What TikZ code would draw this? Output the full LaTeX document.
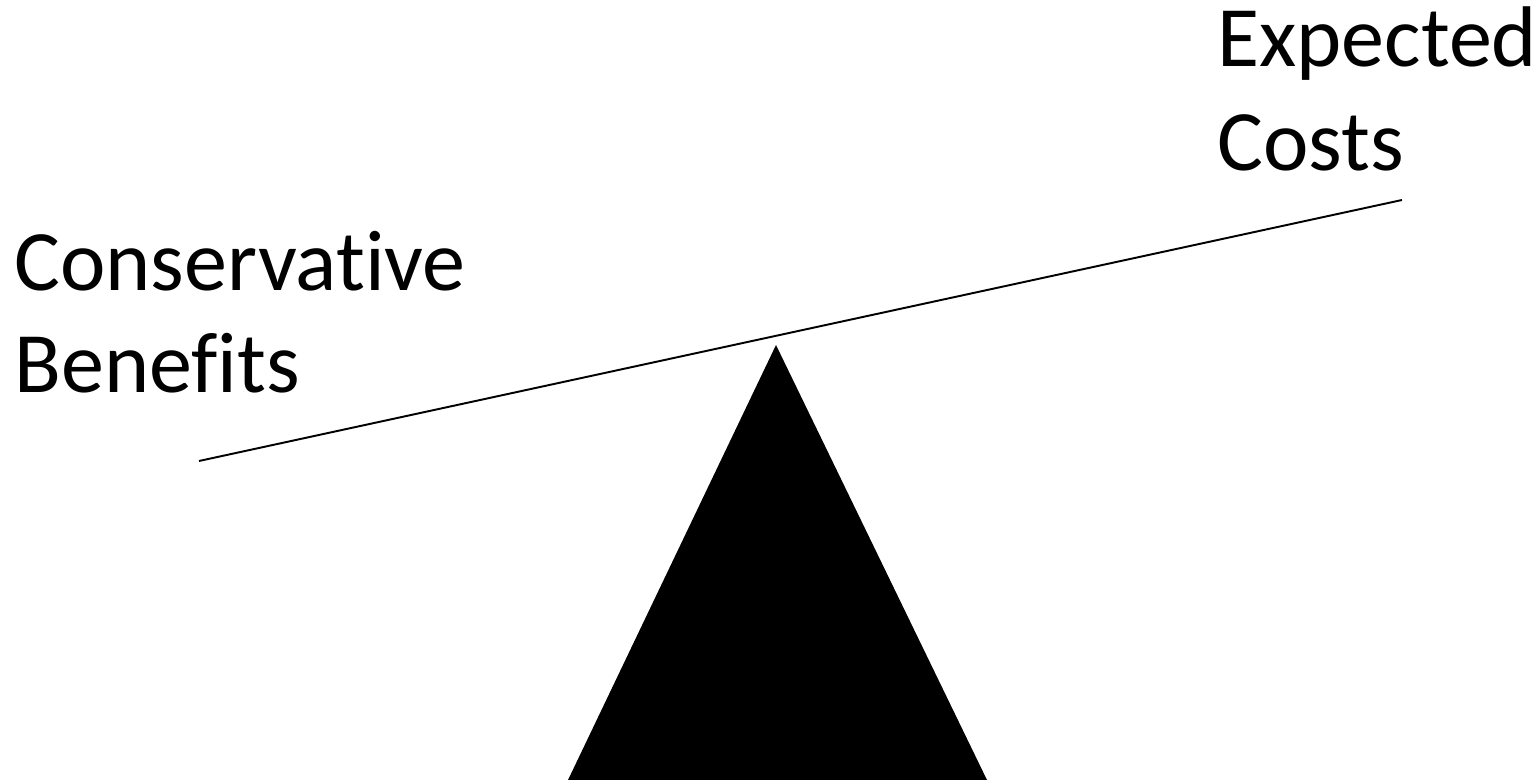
\documentclass[tikz,border=0pt]{standalone}
\usepackage{fontspec}
\setmainfont[Ligatures={NoCommon,NoContextual}]{Carlito}
\usepackage{tikz}
\usetikzlibrary{positioning}

\begin{document}
\begin{tikzpicture}[x=0.02cm, y=-0.02cm,
  lbl/.style={inner sep=0pt, anchor=base west, font=\fontsize{49}{49}\selectfont}]
  \useasboundingbox (0,0) rectangle (1536,780);
  % beam
  \coordinate (beamL) at (199,461);
  \coordinate (beamR) at (1402,200);
  \draw[line width=1.1pt] (beamL) -- (beamR);
  % pivot
  \coordinate (apex) at (776,345);
  \coordinate (baseL) at (568,780);
  \coordinate (baseR) at (987,780);
  \fill (apex) -- (baseR) -- (baseL) -- cycle;
  % labels
  \node[lbl] (cons) at (14,291) {Conservative};
  \node[lbl] (bene) at (14,393) {Benefits};
  \node[lbl] (expd) at (1217,67) {Expected};
  \node[lbl] (cost) at (1217,171) {Costs};
\end{tikzpicture}
\end{document}
